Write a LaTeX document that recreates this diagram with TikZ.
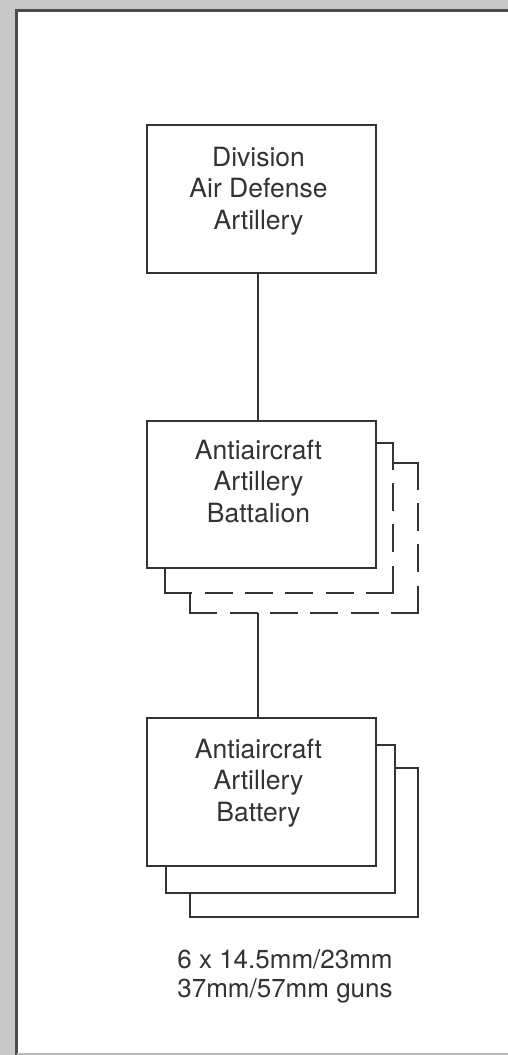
\documentclass[tikz,border=0pt]{standalone}
\usepackage{fontspec}
\setmainfont{TeX Gyre Heros}
\begin{document}
\begin{tikzpicture}[x=1pt,y=-1pt,
  ink/.style={draw=black!80, line width=2pt},
  unit/.style={ink, fill=white, rectangle, inner sep=0pt, minimum width=229pt, minimum height=148pt},
  backing/.style={rectangle, inner sep=0pt, minimum width=228pt, minimum height=150pt},
  stub/.style={ink, line cap=rect},
  vdash/.style={ink, line cap=rect, dash pattern=on 26pt off 15.33pt},
  hdash/.style={ink, line cap=rect, dash pattern=on 26pt off 14.4pt},
  caption/.style={inner sep=0pt, align=center, text=black!80, font=\fontsize{26.5}{31.5}\selectfont},
]
\path[use as bounding box] (0,0) rectangle (508,1055);

% mount: grey card with a white panel
\fill[black!22] (0,0) rectangle (508,1055);
\fill[white] (16,10) rectangle (508,1053);
\draw[black!70, line width=3pt] (16,1055) -- (16,10) -- (508,10);
\draw[black!28, line width=2pt] (17,1054) -- (508,1054);

% division air defense artillery
\node[unit] (ada) at (261.5,199) {};
\node[caption, anchor=north] (adatext) at ([xshift=-3pt,yshift=-22.7pt]ada.north)
  {Division\\Air Defense\\Artillery};

% antiaircraft artillery battalions (one shown, further ones dashed)
\node[backing] (aab3) at (304,538) {};
\node[backing] (aab2) at (279,518) {};
\node[unit, minimum height=147pt] (aab) at (261.5,494.5) {};

\draw[stub] (aab2.east |- aab3.north) -- (aab3.north east);
\draw[vdash] (aab3.north east) -- (aab3.south east);
\draw[hdash] (aab3.south east) -- (aab3.south west);
\draw[stub] (aab3.south west) -- (aab3.south west |- aab2.south);

\draw[stub] (aab.east |- aab2.north) -- (aab2.north east);
\draw[vdash] (aab2.north east) -- (aab2.south east);
\draw[hdash] (aab2.south east) -- (aab2.south west);
\draw[stub] (aab2.south west) -- (aab2.south west |- aab.south);

\node[caption, anchor=north] (aabtext) at ([xshift=-3pt,yshift=-19.7pt]aab.north)
  {Antiaircraft\\Artillery\\Battalion};

% antiaircraft artillery batteries
\node[unit, minimum width=228pt, minimum height=149pt] (bty3) at (304,842.5) {};
\node[unit, minimum width=229pt] (bty2) at (280.5,819) {};
\node[unit] (bty) at (261.5,792) {};
\node[caption, anchor=north] (btytext) at ([xshift=-3pt,yshift=-21.7pt]bty.north)
  {Antiaircraft\\Artillery\\Battery};

\node[caption, font=\fontsize{26}{29}\selectfont, anchor=north] (guns)
  at ([xshift=-19pt,yshift=-31.6pt]bty3.south) {6 x 14.5mm/23mm\\37mm/57mm guns};

% chain of command
\coordinate (tap) at ([xshift=-3.5pt]aab.south);
\draw[ink] ([xshift=-3.5pt]ada.south) -- ([xshift=-3.5pt]aab.north);
\draw[ink] (tap |- aab3.south) -- ([xshift=-3.5pt]bty.north);
\end{tikzpicture}
\end{document}
